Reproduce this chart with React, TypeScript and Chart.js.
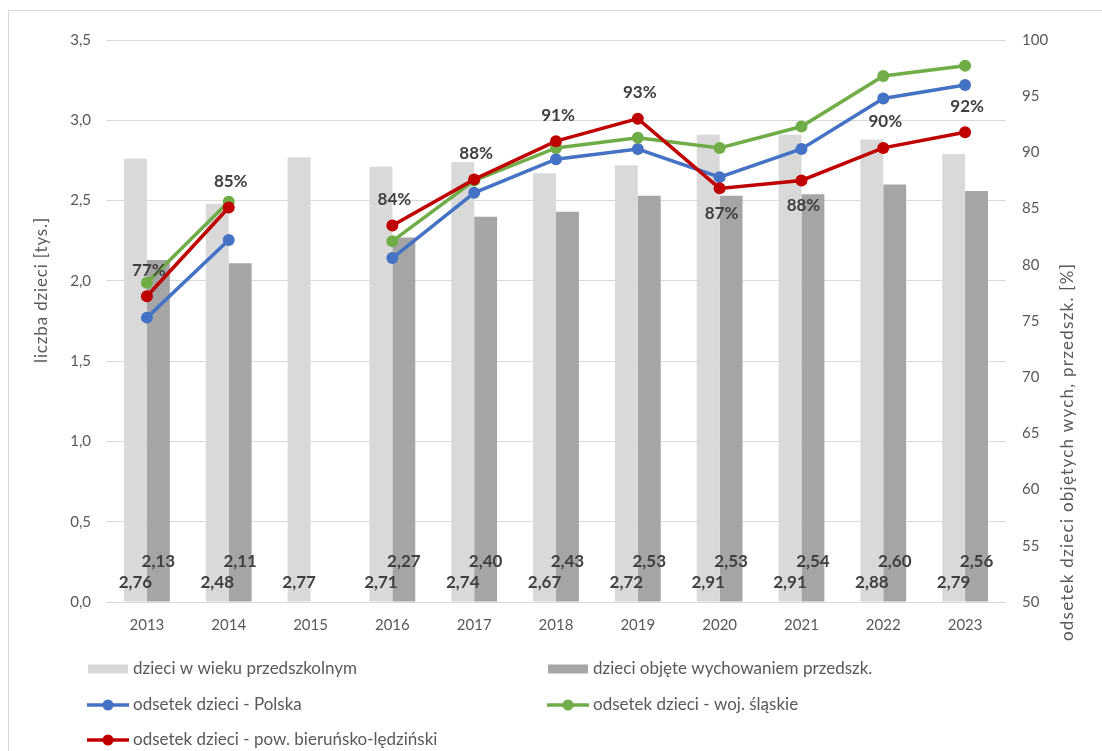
import React, { useEffect, useRef } from 'react';
import { Chart, registerables } from 'chart.js';

Chart.register(...registerables);

const years = ['2013', '2014', '2015', '2016', '2017', '2018', '2019', '2020', '2021', '2022', '2023'];
const childrenPreschoolAge = [2.76, 2.48, 2.77, 2.71, 2.74, 2.67, 2.72, 2.91, 2.91, 2.88, 2.79];
const childrenInPreschool = [2.13, 2.11, null, 2.27, 2.40, 2.43, 2.53, 2.53, 2.54, 2.60, 2.56];
const pctPolska = [75.3, 82.2, null, 80.6, 86.4, 89.4, 90.3, 87.8, 90.3, 94.8, 96.0];
const pctSlaskie = [78.4, 85.6, null, 82.1, 87.5, 90.4, 91.3, 90.4, 92.3, 96.8, 97.7];
const pctPowiat = [77.2, 85.1, null, 83.5, 87.6, 91.0, 93.0, 86.8, 87.5, 90.4, 91.8];

const seriesNames = [
  'dzieci w wieku przedszkolnym',
  'dzieci objęte wychowaniem przedszk.',
  'odsetek dzieci - Polska',
  'odsetek dzieci - woj. śląskie',
  'odsetek dzieci - pow. bieruńsko-lędziński',
];
const leftTitle = 'liczba dzieci [tys.]';
const rightTitle = 'odsetek dzieci objętych wych, przedszk. [%]';

const FONT = 'Lato, "Open Sans", sans-serif';
const TEXT = '#595959';
const LABEL = '#404040';
const LIGHT = '#D9D9D9';
const DARK = '#A5A5A5';
const BLUE = '#4472C4';
const GREEN = '#70AD47';
const RED = '#C00000';

const fmt = (v: number) => v.toFixed(2).replace('.', ',');

function fitText(ctx: any, text: string, target: number) {
  ctx.letterSpacing = '0px';
  const w = ctx.measureText(text).width;
  const sp = (target - w) / Math.max(1, text.length - 1);
  ctx.letterSpacing = `${sp.toFixed(2)}px`;
}

const labelsPlugin = {
  id: 'customLabels',
  afterDatasetsDraw(chart: any) {
    const ctx = chart.ctx;
    const base = chart.scales.y.getPixelForValue(0);
    ctx.save();
    ctx.font = `bold 17px ${FONT}`;
    ctx.fillStyle = LABEL;
    ctx.textAlign = 'center';
    ctx.textBaseline = 'middle';
    chart.getDatasetMeta(0).data.forEach((el: any, i: number) => {
      const v = childrenPreschoolAge[i];
      if (v != null) ctx.fillText(fmt(v), el.x, base - 19);
    });
    chart.getDatasetMeta(1).data.forEach((el: any, i: number) => {
      const v = childrenInPreschool[i];
      if (v != null) ctx.fillText(fmt(v), el.x, base - 40);
    });
    const below = [7, 8];
    chart.getDatasetMeta(4).data.forEach((el: any, i: number) => {
      const v = pctPowiat[i];
      if (v == null) return;
      const dy = below.includes(i) ? 25 : -26;
      ctx.fillText(Math.round(v) + '%', el.x + 2, el.y + dy);
    });
    ctx.restore();
  },
  afterDraw(chart: any) {
    const ctx = chart.ctx;
    ctx.save();
    // axis titles
    ctx.fillStyle = TEXT;
    ctx.textAlign = 'center';
    ctx.textBaseline = 'middle';
    ctx.save();
    ctx.font = `17px ${FONT}`;
    ctx.translate(33, 279);
    ctx.rotate(-Math.PI / 2);
    fitText(ctx, leftTitle, 145);
    ctx.fillText(leftTitle, 0, 0);
    ctx.restore();
    ctx.save();
    ctx.font = `17px ${FONT}`;
    ctx.translate(1059, 441);
    ctx.rotate(-Math.PI / 2);
    fitText(ctx, rightTitle, 377);
    ctx.fillText(rightTitle, 0, 0);
    ctx.restore();

    // legend
    const items = [
      { col: 0, row: 0, type: 'bar', color: LIGHT, text: seriesNames[0] },
      { col: 1, row: 0, type: 'bar', color: DARK, text: seriesNames[1] },
      { col: 0, row: 1, type: 'line', color: BLUE, text: seriesNames[2] },
      { col: 1, row: 1, type: 'line', color: GREEN, text: seriesNames[3] },
      { col: 0, row: 2, type: 'line', color: RED, text: seriesNames[4] },
    ];
    const colX = [79, 539];
    const rowY = [658, 694, 729];
    ctx.font = `17px ${FONT}`;
    ctx.letterSpacing = '0px';
    ctx.textAlign = 'left';
    ctx.textBaseline = 'middle';
    items.forEach((it) => {
      const x = colX[it.col];
      const y = rowY[it.row];
      if (it.type === 'bar') {
        ctx.fillStyle = it.color;
        ctx.fillRect(x, y - 4.5, 40, 9);
      } else {
        ctx.strokeStyle = it.color;
        ctx.lineWidth = 3.5;
        ctx.beginPath();
        ctx.moveTo(x - 1, y);
        ctx.lineTo(x + 41, y);
        ctx.stroke();
        ctx.fillStyle = it.color;
        ctx.beginPath();
        ctx.arc(x + 20, y, 5.5, 0, Math.PI * 2);
        ctx.fill();
      }
      ctx.fillStyle = TEXT;
      ctx.fillText(it.text, x + 45, y);
    });
    ctx.restore();
  },
};

export default function App() {
  const ref = useRef<HTMLCanvasElement>(null);
  useEffect(() => {
    document.body.style.overflow = 'hidden';
    const lineDs = (label: string, data: (number | null)[], color: string, order: number) => ({
      type: 'line' as const,
      label,
      data,
      yAxisID: 'y1',
      borderColor: color,
      backgroundColor: color,
      borderWidth: 3.5,
      pointRadius: 6,
      pointHoverRadius: 6,
      pointBorderWidth: 0,
      pointBackgroundColor: color,
      spanGaps: false,
      tension: 0,
      order,
    });
    const chart = new Chart(ref.current!, {
      type: 'bar',
      data: {
        labels: years,
        datasets: [
          {
            type: 'bar',
            label: seriesNames[0],
            data: childrenPreschoolAge,
            backgroundColor: LIGHT,
            yAxisID: 'y',
            order: 9,
            categoryPercentage: 0.56,
            barPercentage: 1,
          },
          {
            type: 'bar',
            label: seriesNames[1],
            data: childrenInPreschool,
            backgroundColor: DARK,
            yAxisID: 'y',
            order: 10,
            categoryPercentage: 0.56,
            barPercentage: 1,
          },
          lineDs(seriesNames[2], pctPolska, BLUE, 3),
          lineDs(seriesNames[3], pctSlaskie, GREEN, 2),
          lineDs(seriesNames[4], pctPowiat, RED, 1),
        ] as any,
      },
      options: {
        responsive: false,
        animation: false,
        layout: { padding: { left: 0, right: 0, top: 29, bottom: 119 } },
        plugins: { legend: { display: false }, tooltip: { enabled: false } },
        scales: {
          x: {
            grid: { display: false, drawTicks: false },
            border: { display: false },
            ticks: { color: TEXT, font: { family: FONT, size: 15 }, padding: 14, maxRotation: 0 },
            afterFit: (s: any) => { s.height = 40; },
          },
          y: {
            position: 'left',
            min: 0,
            max: 3.5,
            grid: { color: LIGHT, drawTicks: false, lineWidth: 1 },
            border: { display: false },
            ticks: {
              stepSize: 0.5,
              color: TEXT,
              font: { family: FONT, size: 15 },
              padding: 15,
              callback: (v: any) => Number(v).toFixed(1).replace('.', ','),
            },
            afterFit: (s: any) => { s.width = 97; },
          },
          y1: {
            position: 'right',
            min: 50,
            max: 100,
            grid: { display: false, drawTicks: false },
            border: { display: false },
            ticks: { stepSize: 5, color: TEXT, font: { family: FONT, size: 15 }, padding: 16 },
            afterFit: (s: any) => { s.width = 103; },
          },
        },
      } as any,
      plugins: [labelsPlugin],
    });
    return () => chart.destroy();
  }, []);
  return (
    <div
      style={{
        position: 'absolute',
        left: 8,
        top: 10,
        width: 1100,
        height: 750,
        border: '1px solid #D9D9D9',
        background: '#fff',
      }}
    >
      <canvas ref={ref} width={1100} height={750} style={{ display: 'block', width: 1100, height: 750 }} />
    </div>
  );
}
